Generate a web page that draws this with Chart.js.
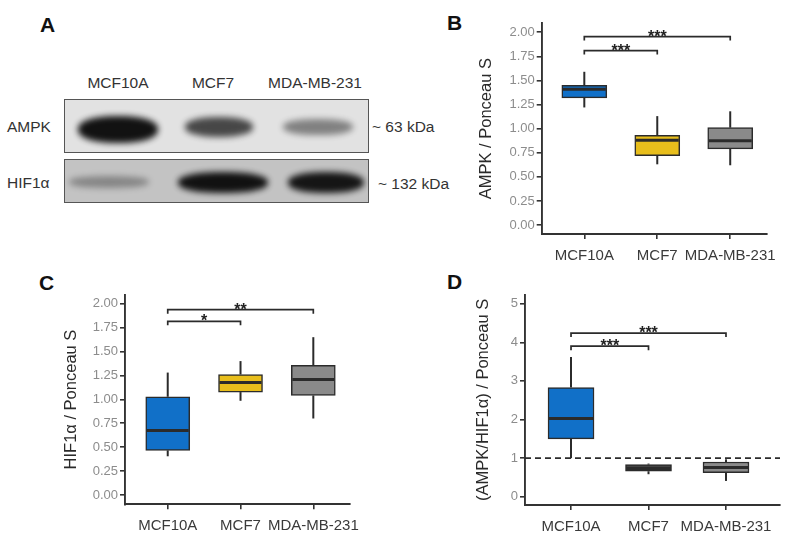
<!DOCTYPE html>
<html>
<head>
<meta charset="utf-8">
<script src="https://cdn.jsdelivr.net/npm/chart.js@4.4.1/dist/chart.umd.min.js"></script>
<style>
body { margin: 0; background: #fff; }
#fig { position: relative; width: 793px; height: 548px; overflow: hidden; font-family: "Liberation Sans", Arial, sans-serif; color: #333; }
.txt { position: absolute; white-space: nowrap; font-size: 15.5px; line-height: 18px; }
.letter { position: absolute; font-weight: bold; font-size: 21px; color: #111; line-height: 24px; }
.blot { position: absolute; border: 1.5px solid #555; box-sizing: border-box; overflow: hidden; }
.band { position: absolute; background: #0c0c0c; border-radius: 45%; filter: blur(3px); }
canvas { position: absolute; }
</style>
</head>
<body>
<div id="fig">
  <div class="letter" style="left:40px;top:13px">A</div>
  <div class="letter" style="left:447px;top:11px">B</div>
  <div class="letter" style="left:39px;top:271px">C</div>
  <div class="letter" style="left:447px;top:270px">D</div>

  <div id="laneLabels"></div>
  <div class="txt" style="left:7px;top:118px">AMPK</div>
  <div class="txt" style="left:7px;top:174px">HIF1α</div>
  <div class="txt" style="left:372px;top:118px">~ 63 kDa</div>
  <div class="txt" style="left:378px;top:175px">~ 132 kDa</div>
  <div class="blot" id="blotTop" style="left:64px;top:99px;width:305px;height:54px;background:#e2e2e2"></div>
  <div class="blot" id="blotBottom" style="left:64px;top:159px;width:305px;height:44px;background:#c3c3c3"></div>

  <canvas id="chartB" width="322" height="266" style="left:465px;top:12px"></canvas>
  <canvas id="chartC" width="330" height="260" style="left:50px;top:285px"></canvas>
  <canvas id="chartD" width="330" height="260" style="left:460px;top:285px"></canvas>
</div>

<script>
const cellLines = ["MCF10A", "MCF7", "MDA-MB-231"];

// A: western blot band strength per lane
const ampkBand = [0.97, 0.72, 0.45];
const hifBand = [0.33, 0.97, 0.95];

// B: AMPK / Ponceau S
const ampkMin = [1.22, 0.63, 0.62];
const ampkQ1 = [1.32, 0.72, 0.79];
const ampkMed = [1.41, 0.88, 0.875];
const ampkQ3 = [1.45, 0.93, 1.01];
const ampkMax = [1.59, 1.13, 1.18];
const ampkTicks = [0, 0.25, 0.5, 0.75, 1, 1.25, 1.5, 1.75, 2];
const ampkSigText = ["***", "***"];
const ampkSigTo = [2, 3];
const ampkSigY = [1.81, 1.955];

// C: HIF1a / Ponceau S
const hifMin = [0.405, 0.985, 0.8];
const hifQ1 = [0.467, 1.076, 1.041];
const hifMed = [0.675, 1.176, 1.207];
const hifQ3 = [1.027, 1.26, 1.356];
const hifMax = [1.28, 1.4, 1.65];
const hifTicks = [0, 0.25, 0.5, 0.75, 1, 1.25, 1.5, 1.75, 2];
const hifSigText = ["*", "**"];
const hifSigTo = [2, 3];
const hifSigY = [1.816, 1.937];

// D: (AMPK/HIF1a) / Ponceau S
const ratioMin = [1.0, 0.584, 0.41];
const ratioQ1 = [1.5, 0.661, 0.627];
const ratioMed = [2.03, 0.73, 0.756];
const ratioQ3 = [2.83, 0.833, 0.9];
const ratioMax = [3.62, 0.86, 0.97];
const ratioTicks = [0, 1, 2, 3, 4, 5];
const ratioSigText = ["***", "***"];
const ratioSigTo = [2, 3];
const ratioSigY = [3.9, 4.24];
const ratioRefLine = 1;

// ---- panel A (blot drawn as plain elements)
const laneCenters = [118, 213, 315];
laneCenters.forEach((cx, i) => {
    const d = document.createElement("div");
    d.className = "txt";
    d.style.left = (cx - 60) + "px";
    d.style.width = "120px";
    d.style.textAlign = "center";
    d.style.top = "74px";
    d.innerText = cellLines[i];
    document.getElementById("laneLabels").append(d);
});

function addBands(holder, strengths, boxes)
{
    strengths.forEach((s, i) => {
        const b = document.createElement("div");
        b.className = "band";
        b.style.left = boxes[i][0] + "px";
        b.style.top = boxes[i][1] + "px";
        b.style.width = boxes[i][2] + "px";
        b.style.height = boxes[i][3] + "px";
        b.style.opacity = s;
        holder.append(b);
    });
}
// boxes are relative to each blot frame
addBands(document.getElementById("blotTop"), ampkBand, [[13, 16, 80, 27], [120, 17, 68, 20], [218, 19, 70, 16]]);
addBands(document.getElementById("blotBottom"), hifBand, [[4, 16, 80, 12], [113, 12, 90, 21], [223, 12, 76, 21]]);

// ---- box plot helper plugin
const boxPlot = {
    id: "boxPlot",
    afterDatasetsDraw(chart, args, o)
    {
        const ctx = chart.ctx;
        const x = chart.scales.x;
        const y = chart.scales.y;
        const area = chart.chartArea;
        const line = (x1, y1, x2, y2) => { ctx.beginPath(); ctx.moveTo(x1, y1); ctx.lineTo(x2, y2); ctx.stroke(); };

        ctx.save();
        ctx.strokeStyle = "#2b2b2b";

        o.med.forEach((m, i) => {
            const cx = x.getPixelForValue(i + 1);
            ctx.lineWidth = 2;
            line(cx, y.getPixelForValue(o.max[i]), cx, y.getPixelForValue(o.q3[i]));
            line(cx, y.getPixelForValue(o.q1[i]), cx, y.getPixelForValue(o.min[i]));
            ctx.lineWidth = 3;
            const half = o.width / 2 - 1;
            line(cx - half, y.getPixelForValue(m), cx + half, y.getPixelForValue(m));
        });

        if (o.refLine !== undefined)
        {
            ctx.lineWidth = 1.7;
            ctx.setLineDash([6, 4]);
            line(area.left, y.getPixelForValue(o.refLine), area.right, y.getPixelForValue(o.refLine));
            ctx.setLineDash([]);
        }

        ctx.lineWidth = 1.7;
        ctx.fillStyle = "#222";
        ctx.font = "bold 16px 'Liberation Sans', Arial, sans-serif";
        ctx.textAlign = "center";
        ctx.textBaseline = "alphabetic";
        o.sigText.forEach((t, i) => {
            const x1 = x.getPixelForValue(1);
            const x2 = x.getPixelForValue(o.sigTo[i]);
            const yy = y.getPixelForValue(o.sigY[i]);
            ctx.beginPath();
            ctx.moveTo(x1, yy + 4);
            ctx.lineTo(x1, yy);
            ctx.lineTo(x2, yy);
            ctx.lineTo(x2, yy + 4);
            ctx.stroke();
            ctx.fillText(t, (x1 + x2) / 2, yy + 5);
        });
        ctx.restore();
    }
};

function boxChart(id, g, s)
{
    const canvas = document.getElementById(id);
    new Chart(canvas, {
        type: "bar",
        data: {
            datasets: [{
                data: s.q1.map((q, i) => ({ x: i + 1, y: [q, s.q3[i]] })),
                backgroundColor: s.colors,
                borderColor: "#2b2b2b",
                borderWidth: 1.5,
                borderSkipped: false,
                barThickness: g.boxWidth
            }]
        },
        options: {
            responsive: false,
            animation: false,
            layout: {
                padding: { top: g.top - g.canvasTop, right: g.canvasLeft + canvas.width - g.right, left: 0, bottom: 0 }
            },
            plugins: {
                legend: { display: false },
                tooltip: { enabled: false },
                boxPlot: s
            },
            scales: {
                x: {
                    type: "linear",
                    offset: false,
                    min: g.xMin,
                    max: g.xMax,
                    afterBuildTicks: sc => { sc.ticks = [1, 2, 3].map(v => ({ value: v })); },
                    afterFit: sc => { sc.height = g.canvasTop + canvas.height - g.bottom; },
                    grid: { offset: false, drawOnChartArea: false, drawTicks: true, tickLength: 5, color: "#333", lineWidth: 1.6 },
                    border: { display: true, color: "#333", width: 1.9 },
                    ticks: {
                        autoSkip: false,
                        maxRotation: 0,
                        padding: 8,
                        color: "#3a3a3a",
                        font: { size: 15, family: "'Liberation Sans', Arial, sans-serif" },
                        callback: v => cellLines[v - 1]
                    }
                },
                y: {
                    min: s.yMin,
                    max: s.yMax,
                    afterBuildTicks: sc => { sc.ticks = s.ticks.map(v => ({ value: v })); },
                    afterFit: sc => { sc.width = g.left - g.canvasLeft; },
                    grid: { drawOnChartArea: false, drawTicks: true, tickLength: 5, color: "#333", lineWidth: 1.6 },
                    border: { display: true, color: "#333", width: 1.9 },
                    ticks: {
                        padding: 2,
                        color: "#8c8c8c",
                        font: { size: 13, family: "'Liberation Sans', Arial, sans-serif" },
                        callback: v => s.decimals ? v.toFixed(2) : String(v)
                    },
                    title: {
                        display: true,
                        text: s.title,
                        color: "#2a2a2a",
                        padding: { top: g.titlePad, bottom: 0 },
                        font: { size: 16.5, family: "'Liberation Sans', Arial, sans-serif" }
                    }
                }
            }
        },
        plugins: [boxPlot]
    });
}

const blue = "#1170c8", yellow = "#e8be1c", gray = "#8a8a8a", dark = "#444444";

boxChart("chartB",
    { canvasLeft: 465, canvasTop: 12, left: 541.7, top: 23.3, right: 766.7, bottom: 234, xMin: 0.416, xMax: 3.5, boxWidth: 45, titlePad: 12 },
    { title: "AMPK / Ponceau S", min: ampkMin, q1: ampkQ1, med: ampkMed, q3: ampkQ3, max: ampkMax,
      ticks: ampkTicks, decimals: true, yMin: -0.093, yMax: 2.093, width: 45,
      sigText: ampkSigText, sigTo: ampkSigTo, sigY: ampkSigY, colors: [blue, yellow, gray] });

boxChart("chartC",
    { canvasLeft: 50, canvasTop: 285, left: 125, top: 293.3, right: 350, bottom: 504.3, xMin: 0.413, xMax: 3.504, boxWidth: 44, titlePad: 12 },
    { title: "HIF1α / Ponceau S", min: hifMin, q1: hifQ1, med: hifMed, q3: hifQ3, max: hifMax,
      ticks: hifTicks, decimals: true, yMin: -0.097, yMax: 2.093, width: 44,
      sigText: hifSigText, sigTo: hifSigTo, sigY: hifSigY, colors: [blue, yellow, gray] });

boxChart("chartD",
    { canvasLeft: 460, canvasTop: 285, left: 525, top: 293.3, right: 780, bottom: 505, xMin: 0.406, xMax: 3.697, boxWidth: 46, titlePad: 13.5 },
    { title: "(AMPK/HIF1α) / Ponceau S", min: ratioMin, q1: ratioQ1, med: ratioMed, q3: ratioQ3, max: ratioMax,
      ticks: ratioTicks, decimals: false, yMin: -0.213, yMax: 5.23, width: 46, refLine: ratioRefLine,
      sigText: ratioSigText, sigTo: ratioSigTo, sigY: ratioSigY, colors: [blue, dark, gray] });
</script>
</body>
</html>
